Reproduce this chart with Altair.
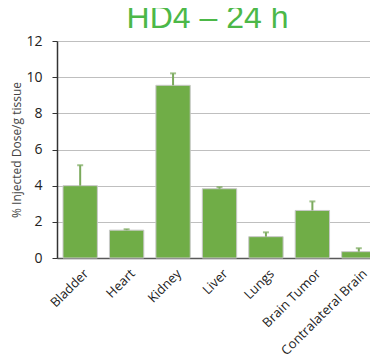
import altair as alt
import pandas as pd

organs = ["Bladder", "Heart", "Kidney", "Liver", "Lungs", "Brain Tumor", "Contralateral Brain"]
values = [4.0, 1.54, 9.55, 3.83, 1.18, 2.63, 0.35]
errors = [1.13, 0.05, 0.66, 0.09, 0.24, 0.50, 0.19]

df = pd.DataFrame({"organ": organs, "value": values, "err": errors})
df["top"] = df["value"] + df["err"]

FONT = "Open Sans"
YTITLE = "% Injected Dose/g tissue"
SHIFT = 6

xscale = alt.Scale(paddingInner=0.26, paddingOuter=0)
xaxis = alt.Axis(labelAngle=-45, labelAlign="right", labelBaseline="top",
                 labelFont=FONT, labelFontSize=13, labelColor="#222222",
                 ticks=False, domainColor="#595959", domainWidth=1.5,
                 labelPadding=9, labelOffset=SHIFT + 2, grid=False, title=None)
yscale = alt.Scale(domain=[0, 12], nice=False)
yaxis = alt.Axis(values=[0, 2, 4, 6, 8, 10, 12], labelFont=FONT, labelFontSize=14,
                 labelColor="#222222", tickColor="#333333", tickSize=5,
                 labelPadding=10, domainColor="#333333", domainWidth=1.5,
                 gridColor="#bfbfbf", gridWidth=1.2, labelOverlap=False,
                 titleFont=FONT, titleFontSize=12, titleFontWeight="normal",
                 titleColor="#444444", titlePadding=2)


def X():
    return alt.X("organ:N", sort=organs, title=None, scale=xscale, axis=xaxis)


def Y(field):
    return alt.Y(field, title=YTITLE, scale=yscale, axis=yaxis)


base = alt.Chart(df)
bars = base.mark_bar(color="#70AD47", stroke="#c8c8c8", strokeWidth=1, xOffset=SHIFT).encode(
    x=X(), y=Y("value:Q"))
rules = base.mark_rule(color="#7BAA5C", strokeWidth=2, xOffset=SHIFT).encode(
    x=X(), y=Y("value:Q"), y2="top:Q")
caps = base.mark_tick(color="#7BAA5C", thickness=2, size=6, orient="horizontal",
                      xOffset=SHIFT).encode(x=X(), y=Y("top:Q"))

chart = (bars + rules + caps).properties(
    width=313, height=217,
    title=alt.TitleParams("HD4 – 24 h", font="Liberation Sans", fontSize=32,
                          fontWeight="normal", color="#4CB848", anchor="middle",
                          dx=-6, offset=-1),
    autosize=alt.AutoSizeParams(type="none"),
    padding={"left": 49, "top": 33, "right": 0, "bottom": 99},
).configure_view(stroke=None)

chart.save("out.html", embed_options={"renderer": "svg", "actions": False})
